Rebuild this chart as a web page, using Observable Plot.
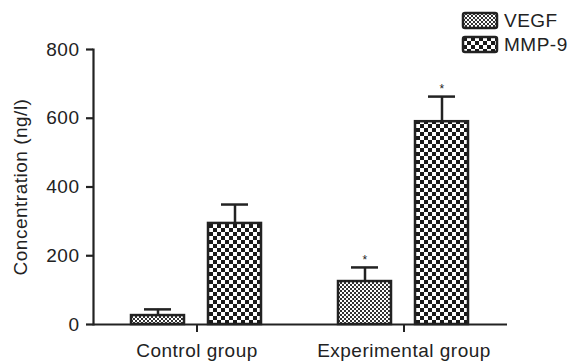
<!DOCTYPE html>
<html>
<head>
<meta charset="utf-8">
<script src="https://cdn.jsdelivr.net/npm/d3@7"></script>
<script src="https://cdn.jsdelivr.net/npm/@observablehq/plot@0.6"></script>
<style>
  html, body { margin: 0; padding: 0; background: #fff; }
  #chart { position: relative; width: 568px; height: 361px; }
</style>
</head>
<body>
<div id="chart"></div>
<script>
const groups = ["Control group", "Experimental group"];
const series = ["VEGF", "MMP-9"];
const vegfValues = [26, 125];
const vegfErrors = [18, 41];
const mmp9Values = [294, 590];
const mmp9Errors = [55, 73];
const significant = [false, true];
const yTicks = [0, 200, 400, 600, 800];

const data = [];
groups.forEach((g, i) => {
  data.push({group: g, series: "VEGF", value: vegfValues[i], err: vegfErrors[i], sig: significant[i]});
  data.push({group: g, series: "MMP-9", value: mmp9Values[i], err: mmp9Errors[i], sig: significant[i]});
});

const ink = "#222";
const svg = Plot.plot({
  width: 568,
  height: 361,
  marginLeft: 92,
  marginRight: 61,
  marginTop: 49,
  marginBottom: 37,
  style: {fontFamily: "Liberation Sans, Arial, sans-serif", fontSize: "19px", letterSpacing: "0.5px", color: ink, background: "#fff"},
  fx: {domain: groups, padding: 0},
  x: {domain: series, paddingInner: 0.31, paddingOuter: 0.482, axis: null},
  y: {domain: [0, 800]},
  color: {domain: series, range: ["url(#pat-vegf)", "url(#pat-mmp9)"]},
  marks: [
    Plot.barY(data, {fx: "group", x: "series", y: "value", fill: "series", stroke: ink, strokeWidth: 2.5}),
    Plot.ruleX(data, {fx: "group", x: "series", y1: "value", y2: d => d.value + d.err, stroke: ink, strokeWidth: 2.5}),
    Plot.tickY(data, {fx: "group", x: "series", y: d => d.value + d.err, insetLeft: 13, insetRight: 13, stroke: ink, strokeWidth: 2.5}),
    Plot.text(data.filter(d => d.sig), {fx: "group", x: "series", y: d => d.value + d.err, text: () => "*", dy: -7, fontSize: 12, letterSpacing: 0, fill: ink}),
    Plot.ruleY([0], {stroke: ink, strokeWidth: 2.2}),
    Plot.frame({anchor: "left", facet: "super", stroke: ink, strokeWidth: 2.2}),
    Plot.axisY({ticks: yTicks, tickSize: 7, tickPadding: 7, strokeWidth: 2.2, label: "Concentration (ng/l)", labelAnchor: "center", labelArrow: "none", labelOffset: 80}),
    Plot.axisFx({anchor: "bottom", tickSize: 8, tickPadding: 11, strokeWidth: 2, label: null})
  ]
});

const s = d3.select(svg);
const defs = s.insert("defs", ":first-child");
const p1 = defs.append("pattern").attr("id", "pat-vegf").attr("patternUnits", "userSpaceOnUse").attr("width", 4).attr("height", 4);
p1.append("rect").attr("width", 4).attr("height", 4).attr("fill", "#333");
p1.append("rect").attr("width", 2).attr("height", 2).attr("fill", "#fff");
p1.append("rect").attr("x", 2).attr("y", 2).attr("width", 2).attr("height", 2).attr("fill", "#fff");
const p2 = defs.append("pattern").attr("id", "pat-mmp9").attr("patternUnits", "userSpaceOnUse").attr("width", 8).attr("height", 8);
p2.append("rect").attr("width", 8).attr("height", 8).attr("fill", "#fff");
p2.append("rect").attr("width", 4).attr("height", 4).attr("fill", "#1a1a1a");
p2.append("rect").attr("x", 4).attr("y", 4).attr("width", 4).attr("height", 4).attr("fill", "#1a1a1a");

// legend
const leg = s.append("g").attr("font-size", 19).attr("text-anchor", "start").attr("fill", ink);
series.forEach((name, i) => {
  const row = leg.append("g").attr("transform", `translate(463, ${13 + i * 24})`);
  row.append("rect").attr("width", 34).attr("height", 15).attr("rx", 2)
    .attr("fill", `url(#${i === 0 ? "pat-vegf" : "pat-mmp9"})`).attr("stroke", ink).attr("stroke-width", 2.5);
  row.append("text").attr("x", 41).attr("y", 7.5).attr("dy", "0.35em").text(name);
});

document.getElementById("chart").appendChild(svg);
</script>
</body>
</html>
